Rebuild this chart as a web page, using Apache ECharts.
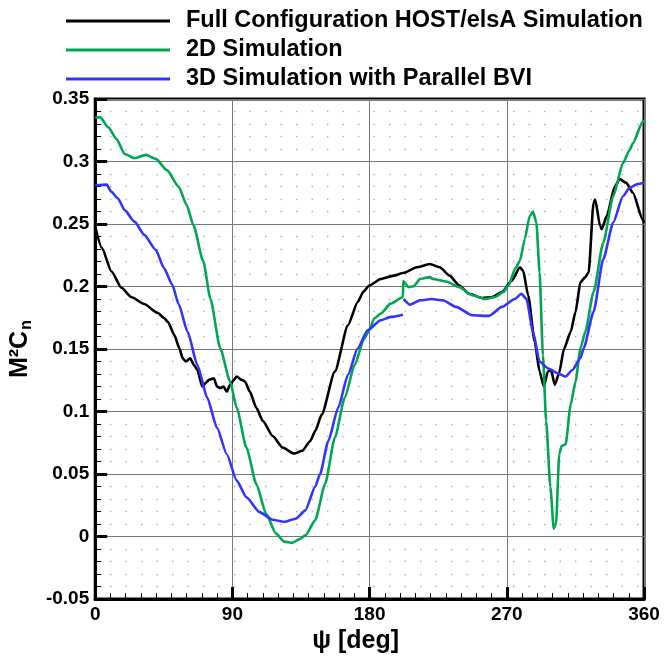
<!DOCTYPE html>
<html>
<head>
<meta charset="utf-8">
<script src="https://cdn.jsdelivr.net/npm/echarts@6/dist/echarts.min.js"></script>
<style>
html,body{margin:0;padding:0;background:#fff;}
#chart{width:665px;height:659px;}
</style>
</head>
<body>
<div id="chart"></div>
<script>
// ---- Data (psi in degrees, M^2 Cn values) ----
const seriesNames = ['Full Configuration HOST/elsA Simulation', '2D Simulation', '3D Simulation with Parallel BVI'];

const hostPsi = [0,4.3,10.7,17.2,23.6,32.2,40.8,45.1,47.7,52,55.2,57.4,59.5,62.3,64.9,67,70.2,72.4,74.6,77.8,79.9,82,84.2,86.3,88.5,90.7,92.8,96,98.2,101.4,105.7,110,116.4,122.9,130.4,135.8,141.1,144.3,148.6,157.2,165.8,172.2,176,179.8,187.3,195.9,202.3,210.9,219.5,226,232.4,238.9,245.3,253.9,260.3,266.8,273.2,278.6,280.7,284,288.3,291.5,294.3,296.9,299,301.5,304.3,307.5,311.9,315.1,318.3,321.5,323.7,326.9,328,331.2,332.3,335.5,340.9,344.1,348.4,352.7,359.1,360];
const hostCn = [0.248,0.231,0.212,0.199,0.1916,0.186,0.179,0.175,0.1717,0.161,0.1506,0.1426,0.140,0.1426,0.137,0.1333,0.120,0.1228,0.1254,0.1267,0.120,0.1188,0.120,0.116,0.1214,0.125,0.128,0.1254,0.1241,0.116,0.103,0.0924,0.0805,0.0712,0.0664,0.0686,0.0765,0.0844,0.0976,0.132,0.169,0.1876,0.196,0.2008,0.206,0.2087,0.211,0.2154,0.218,0.2154,0.2087,0.2008,0.1942,0.1908,0.1916,0.1956,0.2045,0.2154,0.2127,0.193,0.1559,0.132,0.120,0.132,0.1333,0.1214,0.1307,0.150,0.1638,0.1797,0.2035,0.2075,0.2114,0.267,0.2696,0.2484,0.2458,0.2563,0.2802,0.286,0.2829,0.275,0.2537,0.251];

const sim2dPsi = [0,3.2,8.6,14,19.3,25.8,33.3,39.7,47.2,54.8,60.1,64.4,70.9,75.6,82,88.5,92.8,99.2,105.7,112.1,118.6,124,129.3,134,137.9,144.3,150.8,157.2,163.7,170.1,176.5,179.8,183,187.3,193.8,201.9,202.0,205.6,208.8,213.1,219.5,221.6,230.4,238.9,247.4,256,262.4,267.8,271.1,275.4,278.6,281.8,285,287.2,289.4,291.5,293.7,295.8,298.6,300.8,302.3,304.4,306,308.6,311.9,315.1,318.3,321.5,326.9,333.3,339.8,346.2,350.5,352.7,359.1,360];
const sim2dCn = [0.335,0.3355,0.3273,0.318,0.306,0.3027,0.3053,0.3021,0.2929,0.2797,0.265,0.2492,0.2202,0.190,0.1506,0.124,0.103,0.0712,0.042,0.0183,0.0024,-0.004,-0.005,-0.002,0.001,0.013,0.042,0.079,0.111,0.137,0.1585,0.165,0.1744,0.1783,0.1863,0.1916,0.2043,0.1995,0.2002,0.206,0.2075,0.206,0.204,0.1995,0.193,0.190,0.1916,0.1956,0.2008,0.214,0.2206,0.238,0.2563,0.260,0.251,0.2114,0.145,0.0924,0.0394,0.0064,0.0103,0.0659,0.0725,0.0738,0.1056,0.124,0.1506,0.1638,0.1956,0.2352,0.2722,0.2987,0.309,0.3146,0.3317,0.333];

const sim3dPsi = [0,7.5,10.7,15,19.3,25.8,32.2,39.7,45.1,50.5,54.8,60.6,67,73.5,79.9,86.3,92.8,99.2,107.8,116.4,123.9,131.4,137.9,144.3,147.5,152.9,159.4,165.8,172.2,178.7,187.3,193.8,201.9,202.1,202.3,206.6,213.1,220.6,228.1,236.7,247.4,258.2,266.8,275.3,279.6,282.9,287.2,291.5,296.9,303.3,308.6,313,318.3,320.4,326.9,333.3,339.8,346.2,350.5,355.9,360];
const sim3dCn = [0.281,0.2815,0.2757,0.2704,0.2611,0.2519,0.2413,0.2294,0.2148,0.2016,0.1857,0.1638,0.1373,0.111,0.087,0.0659,0.0448,0.0315,0.0196,0.0135,0.0117,0.0143,0.021,0.040,0.050,0.0765,0.103,0.1294,0.1506,0.165,0.173,0.1757,0.1775,null,0.190,0.1855,0.189,0.190,0.189,0.1837,0.177,0.1765,0.1837,0.190,0.1942,0.190,0.1638,0.140,0.1347,0.1307,0.128,0.1333,0.1426,0.1506,0.1797,0.222,0.2511,0.2722,0.2789,0.282,0.283];

const seriesColors = ['#000000', '#00a651', '#3333ff'];

function pairs(xs, ys) { return xs.map((x, i) => [x, ys[i]]); }

const FONT = '"Liberation Sans", Arial, sans-serif';
const chart = echarts.init(document.getElementById('chart'), null, {renderer: 'canvas'});

const GRID_L = 86, GRID_R = 21, GRID_T = 99, GRID_B = 56;
const xStepPx = (665 - GRID_L - GRID_R) / 36; // spacing of 10-degree minor positions

function mkSeries(name, xs, ys, color) {
  return {
    name: name, type: 'line', data: pairs(xs, ys),
    showSymbol: false, symbol: 'none',
    smooth: 0.2, smoothMonotone: 'x',
    connectNulls: false,
    lineStyle: {color: color, width: 2.6},
    itemStyle: {color: color},
    emphasis: {disabled: true},
    animation: false
  };
}

chart.setOption({
  animation: false,
  backgroundColor: '#fff',
  legend: {
    orient: 'vertical', left: 66, top: 9, padding: 0,
    icon: 'rect', itemWidth: 104, itemHeight: 3, itemGap: 5,
    data: seriesNames,
    textStyle: {fontFamily: FONT, fontWeight: 'bold', fontSize: 23.5, color: '#000', lineHeight: 23, padding: [0, 0, 0, 11]}
  },
  grid: {left: GRID_L, right: GRID_R, top: GRID_T, bottom: GRID_B, show: true, borderColor: '#000', borderWidth: 3, backgroundColor: 'transparent'},
  xAxis: {
    type: 'value', min: 0, max: 360, interval: 90,
    name: 'ψ [deg]', nameLocation: 'middle', nameGap: 26,
    nameTextStyle: {fontFamily: FONT, fontWeight: 'bold', fontSize: 25, color: '#000', padding: [0, 28, 0, 0]},
    axisLine: {show: true, onZero: false, lineStyle: {color: '#000', width: 3}},
    axisTick: {show: true, inside: true, length: 12, lineStyle: {color: '#000', width: 3}},
    minorTick: {show: true, splitNumber: 9, length: 6, lineStyle: {color: '#000', width: 1}},
    axisLabel: {fontFamily: FONT, fontWeight: 'bold', fontSize: 19, color: '#000', margin: 6},
    splitLine: {show: true, lineStyle: {color: '#777', width: 1}},
    minorSplitLine: {show: false}
  },
  yAxis: {
    type: 'value', min: -0.05, max: 0.35, interval: 0.05,
    name: 'M²C{s|n}', nameLocation: 'middle', nameGap: 54, nameRotate: 90,
    nameTextStyle: {fontFamily: FONT, fontWeight: 'bold', fontSize: 25, color: '#000',
      rich: {s: {fontFamily: FONT, fontWeight: 'bold', fontSize: 16, color: '#000', padding: [13, 0, 0, 1]}}},
    axisLine: {show: true, onZero: false, lineStyle: {color: '#000', width: 3}},
    axisTick: {show: true, inside: true, length: 12, lineStyle: {color: '#000', width: 3}},
    minorTick: {show: true, splitNumber: 5, length: 6, lineStyle: {color: '#000', width: 1}},
    axisLabel: {fontFamily: FONT, fontWeight: 'bold', fontSize: 19, color: '#000', margin: 6,
      formatter: v => String(parseFloat(v.toFixed(2)))},
    splitLine: {show: true, lineStyle: {color: '#777', width: 1}},
    minorSplitLine: {show: true, lineStyle: {color: '#aaa', width: 1.3, type: [1.3, xStepPx - 1.3], dashOffset: 0.65}}
  },
  series: [
    mkSeries(seriesNames[0], hostPsi, hostCn, seriesColors[0]),
    mkSeries(seriesNames[1], sim2dPsi, sim2dCn, seriesColors[1]),
    mkSeries(seriesNames[2], sim3dPsi, sim3dCn, seriesColors[2])
  ]
});
</script>
</body>
</html>
